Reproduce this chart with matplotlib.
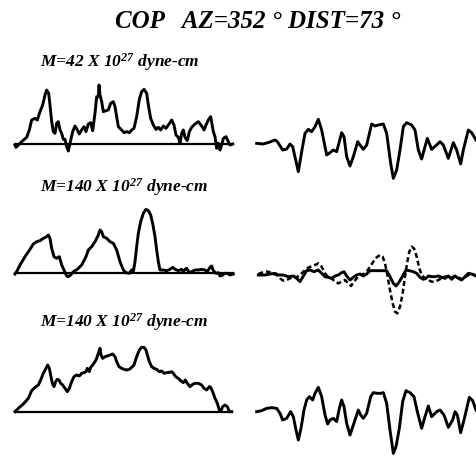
import matplotlib.pyplot as plt

plt.rcParams['font.family'] = 'Liberation Serif'
plt.rcParams['mathtext.fontset'] = 'custom'
for key in ('rm', 'it', 'bf'):
    plt.rcParams['mathtext.' + key] = 'Liberation Serif:bold:italic'

W, H = 476, 457

station = "COP"
azimuth = 352
distance = 73
moments = [42, 140, 140]

# source time functions (time, moment rate; arbitrary units)
stf1_t = [0, 3, 10, 20, 35, 43, 50, 60, 67, 75, 83, 90, 95, 101, 105, 110, 115, 120, 125, 130,
          135, 140, 145, 150, 155, 160, 165, 173, 180, 187, 193, 200, 207, 213, 220, 227, 233, 240,
          245, 250, 252, 255, 260, 265, 273, 280, 287, 295, 300, 305, 310, 320, 327, 335, 343, 350,
          357, 365, 373, 380, 387, 395, 400, 407, 415, 423, 430, 437, 445, 453, 460, 470, 477, 483,
          490, 495, 500, 505, 510, 517, 523, 530, 540, 550, 560, 567, 573, 580, 587, 595, 600, 605,
          610, 615, 620, 625, 633, 640, 645, 653]
stf1_a = [-3, -10, -3, 7, 20, 42, 72, 77, 72, 97, 117, 147, 162, 152, 117, 67, 37, 32, 62, 67,
          42, 32, 14, 14, -8, -21, 2, 37, 54, 42, 30, 42, 52, 37, 60, 64, 40, 92,
          142, 142, 177, 147, 127, 97, 100, 102, 122, 127, 112, 82, 52, 42, 34, 37, 34, 42,
          47, 82, 134, 157, 164, 152, 117, 77, 57, 44, 50, 42, 54, 47, 57, 72, 57, 27,
          20, 2, 32, 42, 20, 10, 37, 50, 60, 67, 54, 42, 57, 72, 82, 37, 22, -13,
          2, -18, -3, 17, 22, 7, -3, 0]

stf2_t = [0, 5, 15, 30, 45, 55, 65, 75, 85, 95, 100, 105, 110, 117, 125, 133, 140, 147, 155, 160,
          167, 175, 187, 200, 213, 220, 230, 240, 250, 255, 260, 265, 275, 285, 295, 305, 315, 325,
          333, 343, 350, 355, 360, 365, 370, 377, 385, 393, 400, 407, 413, 420, 425, 430, 435, 445,
          455, 465, 473, 480, 490, 500, 505, 510, 515, 523, 530, 540, 550, 560, 570, 577, 585, 590,
          595, 603, 610, 615, 623, 630, 637, 645, 655]
stf2_a = [-2, 5, 25, 50, 72, 88, 95, 98, 105, 110, 115, 105, 75, 50, 45, 50, 25, 10, -8, -10,
          -5, 5, 12, 25, 50, 70, 80, 95, 115, 130, 125, 110, 105, 95, 90, 70, 35, 10,
          2, 0, 10, 5, 35, 80, 120, 155, 180, 192, 188, 175, 150, 110, 70, 35, 10, 10,
          8, 12, 18, 12, 8, 12, 5, 12, 15, 2, 5, 10, 10, 12, 10, 5, 18, 22,
          8, 0, 2, -8, -5, 0, 0, -5, -2]

stf3_t = [0, 10, 25, 40, 50, 60, 70, 77, 85, 93, 98, 103, 107, 112, 117, 122, 127, 132, 137, 143,
          150, 157, 163, 170, 177, 185, 193, 200, 207, 213, 217, 223, 227, 233, 240, 245, 250, 255,
          258, 263, 270, 277, 285, 293, 300, 305, 312, 320, 327, 335, 343, 350, 357, 365, 373, 380,
          387, 393, 397, 403, 410, 417, 425, 433, 440, 447, 455, 463, 470, 475, 482, 490, 497, 505,
          511, 517, 525, 533, 540, 550, 560, 567, 575, 583, 587, 593, 600, 607, 613, 618, 623, 630,
          637, 643, 650]
stf3_a = [0, 10, 23, 40, 63, 73, 80, 95, 115, 130, 140, 130, 110, 85, 75, 90, 97, 95, 85, 80,
          70, 60, 70, 90, 105, 110, 107, 115, 117, 120, 130, 120, 133, 140, 150, 160, 175, 190,
          170, 160, 165, 167, 170, 173, 165, 150, 135, 130, 127, 125, 127, 133, 140, 165, 185, 193,
          193, 185, 170, 150, 135, 130, 127, 120, 122, 115, 117, 118, 120, 115, 105, 100, 93, 87,
          95, 85, 75, 82, 85, 85, 80, 70, 65, 75, 73, 60, 40, 25, 5, 3, 15, 20,
          15, 0, 0]

# P waveforms (time, amplitude; arbitrary units)
obs1_t = [0, 20, 40, 55, 62, 78, 90, 100, 108, 125, 135, 145, 155, 165, 175, 185, 195, 210, 220, 230,
          240, 255, 262, 270, 280, 290, 303, 310, 320, 330, 345, 355, 365, 380, 390, 402, 410, 420,
          430, 440, 450, 465, 475, 485, 495, 505, 512, 525, 540, 550, 560, 575, 590, 600, 612, 620,
          635, 645, 658]
obs1_a = [0, -2, 4, 10, 5, -20, -17, -2, -10, -85, -25, 30, 42, 35, 50, 72, 40, -35, -28, -20,
          -25, 32, 20, -40, -68, -40, 5, -5, -18, -5, 58, 52, 55, 58, 30, -60, -105, -80,
          -20, 50, 62, 55, 40, -20, -47, -10, 15, -18, -5, 5, -5, -45, 2, -20, -62, -20,
          40, 32, 10]

obs2_t = [0, 20, 35, 50, 60, 75, 90, 105, 115, 125, 135, 145, 155, 167, 180, 190, 200, 210, 220, 230,
          240, 250, 257, 265, 275, 285, 295, 305, 315, 325, 335, 345, 355, 370, 385, 395, 405, 413,
          423, 433, 443, 453, 465, 475, 485, 495, 503, 510, 520, 530, 540, 550, 560, 570, 580, 590,
          600, 610, 620, 630, 640, 653]
obs2_a = [0, 0, 3, 5, 0, 0, -5, -3, -10, -20, -3, 13, 15, 10, 15, 5, -5, -7, -10, -3,
          0, 7, 10, -3, -15, -7, 0, 3, -3, 3, 13, 13, 13, 13, 13, -5, -25, -33,
          -20, -3, 15, 13, 10, 5, -7, -13, -10, -3, -5, -5, -3, -7, -10, -3, -13, -3,
          -10, -15, -5, 5, 3, -3]

syn2_t = [0, 10, 20, 30, 40, 55, 65, 75, 85, 95, 105, 115, 125, 135, 145, 157, 170, 180, 190, 200,
          210, 220, 230, 240, 250, 260, 270, 278, 285, 295, 305, 315, 325, 335, 345, 355, 365, 373,
          380, 387, 395, 403, 410, 417, 425, 433, 440, 447, 453, 460, 467, 475, 483, 490, 500, 510,
          520, 530, 540, 550, 560, 570, 580, 590, 600, 610, 620, 630, 640, 650]
syn2_a = [3, 7, 10, 10, 5, 0, -10, -17, -15, -10, -5, -7, 0, 10, 20, 25, 30, 35, 25, 5,
          -7, -10, -20, -25, -20, -15, -25, -33, -23, -10, 0, 3, 10, 25, 40, 53, 60, 55,
          35, 0, -45, -85, -110, -115, -95, -55, -5, 40, 70, 85, 80, 55, 20, 0, -10, -15,
          -20, -20, -15, -10, -5, -3, -7, -3, -7, -13, -7, 0, 3, 0]

obs3_t = [0, 15, 30, 45, 60, 70, 78, 90, 102, 110, 118, 125, 133, 142, 150, 158, 168, 175, 185, 195,
          205, 213, 220, 230, 240, 248, 255, 262, 270, 280, 290, 305, 312, 320, 330, 342, 350, 362,
          372, 380, 390, 400, 410, 418, 428, 438, 448, 460, 472, 482, 495, 505, 515, 525, 540, 550,
          562, 575, 588, 595, 602, 612, 622, 638, 648, 658]
obs3_a = [0, 3, 10, 12, 10, -5, -25, -20, 0, -15, -55, -85, -50, 5, 35, 45, 35, 55, 73, 45,
          -10, -37, -25, -20, -30, 10, 35, 15, -35, -70, -40, 5, -10, -20, -5, 45, 57, 55,
          55, 57, 25, -55, -125, -105, -50, 30, 63, 57, 45, 0, -50, -15, 17, -15, 0, 5,
          -10, -47, -25, 0, -10, -63, -25, 43, 33, 5]

fig = plt.figure(figsize=(W / 100, H / 100), dpi=100)
UNITS_PER_PX = 3


def trace_axes(left, top, width, height, t0, a0):
    # left/top/width/height in pixels; t0, a0 = data value at the box's left and top edges
    ax = fig.add_axes([left / W, 1 - (top + height) / H, width / W, height / H])
    ax.set_xlim(t0, t0 + UNITS_PER_PX * width)
    ax.set_ylim(a0 - UNITS_PER_PX * height, a0)
    ax.axis('off')
    return ax


def draw_stf(ax, t, a):
    ax.plot([t[0], t[-1]], [0, 0], color='k', lw=1.6, clip_on=False)
    ax.plot(t, a, color='k', lw=2.1, solid_joinstyle='round', clip_on=False)


def draw_wave(ax, t, a, lw=2.1, **kw):
    ax.plot(t, a, color='k', lw=lw, solid_joinstyle='round', clip_on=False, **kw)


fig.text(258 / W, 1 - 28 / H, f"{station}   AZ={azimuth} ° DIST={distance} °",
         ha='center', va='baseline', fontsize=18, fontweight='bold', style='italic')

label_y = [67, 192, 327]
for m, y in zip(moments, label_y):
    fig.text(40 / W, 1 - y / H, f"M={m} X 10$^{{27}}$ dyne-cm",
             ha='left', va='baseline', fontsize=12.5, fontweight='bold', style='italic')

draw_stf(trace_axes(0, 50, 250, 110, -45, 282), stf1_t, stf1_a)
draw_stf(trace_axes(0, 190, 250, 100, -45, 250), stf2_t, stf2_a)
draw_stf(trace_axes(0, 330, 250, 90, -45, 245), stf3_t, stf3_a)

draw_wave(trace_axes(240, 80, 236, 100, -50, 190), obs1_t, obs1_a)
ax2 = trace_axes(240, 200, 236, 140, -55, 225)
draw_wave(ax2, syn2_t, syn2_a, lw=1.8, linestyle=(0, (2.0, 1.2)))
draw_wave(ax2, obs2_t, obs2_a)
draw_wave(trace_axes(240, 340, 236, 117, -50, 215), obs3_t, obs3_a)

fig.savefig('out.png', dpi=100)
